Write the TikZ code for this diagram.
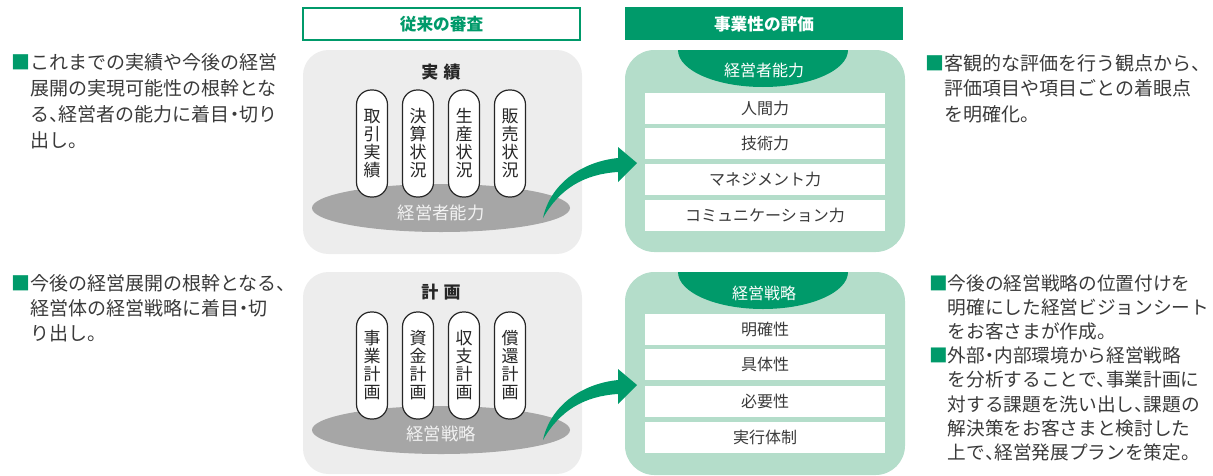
\documentclass[tikz,border=0pt]{standalone}
\usepackage{fontspec}
\setmainfont{Noto Sans CJK JP}
\definecolor{brand}{HTML}{009A6A}
\definecolor{mint}{HTML}{B4DDCA}
\definecolor{panelgray}{HTML}{EDEDED}
\definecolor{ellgray}{HTML}{A6A6A6}
\definecolor{ink}{HTML}{3A3A3A}
\newcommand{\sqb}{\textcolor{brand}{■}}
\newcommand{\hten}{\makebox[0.5em][l]{、}}
\newcommand{\hdot}{\makebox[0.5em][c]{・}}
\begin{document}
\begin{tikzpicture}[x=0.75pt,y=-0.75pt,
  bodyline/.style={anchor=base west, inner sep=0pt, text=ink, font=\fontsize{14.25pt}{14.25pt}\selectfont},
  smallline/.style={bodyline, font=\fontsize{14pt}{14pt}\selectfont},
  pillarbox/.style={draw=black!85, line width=0.9pt, fill=white, rounded corners=11pt,
    minimum width=23.25pt, minimum height=80.25pt, inner sep=0pt, align=center,
    text=black!85, font=\fontsize{12.75pt}{13.5pt}\selectfont},
  rowbox/.style={fill=white, minimum width=180pt, minimum height=23.25pt, inner sep=0pt,
    text=ink, font=\fontsize{12pt}{12pt}\selectfont},
  graypanel/.style={fill=panelgray, rounded corners=19pt},
  mintpanel/.style={fill=mint, rounded corners=22pt},
  greenarrow/.style={fill=brand},
  elltext/.style={text=white!95!black, font=\fontsize{13pt}{13pt}\selectfont, inner sep=0pt},
  captext/.style={text=white, font=\fontsize{12pt}{12pt}\selectfont, inner sep=0pt},
  titletext/.style={text=black!85, font=\bfseries\fontsize{12.75pt}{12.75pt}\selectfont, inner sep=0pt}
]
\useasboundingbox (0,0) rectangle (1213,475);

% headers
\draw[draw=brand, line width=1.2pt, fill=white] (303,8) rectangle (580,40);
\node[text=brand, font=\bfseries\fontsize{12.5pt}{12.5pt}\selectfont, inner sep=0pt] (hdrA) at (441.5,24) {従来の審査};
\fill[brand] (625,7) rectangle (903,40);
\node[text=white, font=\bfseries\fontsize{12.5pt}{12.5pt}\selectfont, inner sep=0pt] (hdrB) at (764,24) {事業性の評価};

% ---------- top row ----------
\fill[graypanel] (303,50) rectangle (582,254);
\fill[mintpanel] (625,50) rectangle (905,252);
\begin{scope}
  \clip (625,50) rectangle (905,100);
  \fill[brand] (763,50) ellipse [x radius=85, y radius=37];
\end{scope}
\node[captext] (capA) at (764,70) {経営者能力};
\node[rowbox] (rA1) at (765,108) {人間力};
\node[rowbox] (rA2) at (765,143.5) {技術力};
\node[rowbox] (rA3) at (765,179) {マネジメント力};
\node[rowbox] (rA4) at (765,215.5) {コミュニケーション力};

\fill[ellgray] (441,208) ellipse [x radius=129, y radius=24];
\node[elltext] (ellA) at (441,213) {経営者能力};
\node[titletext] (titA) at (441,72) {実\hspace{0.3em}績};
\node[pillarbox] (pA1) at (372,143.5) {取\\引\\実\\績};
\node[pillarbox] (pA2) at (418,143.5) {決\\算\\状\\況};
\node[pillarbox] (pA3) at (464,143.5) {生\\産\\状\\況};
\node[pillarbox] (pA4) at (510,143.5) {販\\売\\状\\況};
\fill[greenarrow] (543,218) .. controls (550,185) and (580,162) .. (618,158)
  -- (618,147) -- (637,163) -- (618,182) -- (618,172)
  .. controls (585,174) and (560,188) .. (543,218) -- cycle;

% ---------- bottom row ----------
\begin{scope}[shift={(0,222)}]
\fill[graypanel] (303,50) rectangle (582,252);
\fill[mintpanel] (625,50) rectangle (905,253);
\begin{scope}
  \clip (625,50) rectangle (905,100);
  \fill[brand] (763,50) ellipse [x radius=85, y radius=37];
\end{scope}
\node[captext] (capB) at (764,71) {経営戦略};
\node[rowbox] (rB1) at (765,107) {明確性};
\node[rowbox] (rB2) at (765,142.5) {具体性};
\node[rowbox] (rB3) at (765,179) {必要性};
\node[rowbox] (rB4) at (765,215.5) {実行体制};

\fill[ellgray] (441,208) ellipse [x radius=129, y radius=24];
\node[elltext] (ellB) at (441,212) {経営戦略};
\node[titletext] (titB) at (441,70) {計\hspace{0.3em}画};
\node[pillarbox] (pB1) at (372,143.5) {事\\業\\計\\画};
\node[pillarbox] (pB2) at (418,143.5) {資\\金\\計\\画};
\node[pillarbox] (pB3) at (464,143.5) {収\\支\\計\\画};
\node[pillarbox] (pB4) at (510,143.5) {償\\還\\計\\画};
\fill[greenarrow] (543,218) .. controls (550,185) and (580,162) .. (618,158)
  -- (618,147) -- (637,163) -- (618,182) -- (618,172)
  .. controls (585,174) and (560,188) .. (543,218) -- cycle;
\end{scope}

% ---------- side texts ----------
\node[bodyline] (lt1) at (11,69.2) {\sqb これまでの実績や今後の経営};
\node[bodyline] (lt2) at (30,95.2) {展開の実現可能性の根幹とな};
\node[bodyline] (lt3) at (30,121.2) {る\hten 経営者の能力に着目\hdot 切り};
\node[bodyline] (lt4) at (30,147.2) {出し。};

\node[bodyline] (lb1) at (11,290.2) {\sqb 今後の経営展開の根幹となる\hten};
\node[bodyline] (lb2) at (30,315.2) {経営体の経営戦略に着目\hdot 切};
\node[bodyline] (lb3) at (30,340.2) {り出し。};

\node[bodyline] (rt1) at (925,70.2) {\sqb 客観的な評価を行う観点から\hten};
\node[bodyline] (rt2) at (944,95.7) {評価項目や項目ごとの着眼点};
\node[bodyline] (rt3) at (944,121.2) {を明確化。};

\node[smallline] (rb1) at (929,290.1) {\sqb 今後の経営戦略の位置付けを};
\node[smallline] (rb2) at (947.7,314.3) {明確にした経営ビジョンシート};
\node[smallline] (rb3) at (947.7,338.5) {をお客さまが作成。};
\node[smallline] (rb4) at (929,362.7) {\sqb 外部\hdot 内部環境から経営戦略};
\node[smallline] (rb5) at (947.7,386.9) {を分析することで\hten 事業計画に};
\node[smallline] (rb6) at (947.7,411.1) {対する課題を洗い出し\hten 課題の};
\node[smallline] (rb7) at (947.7,435.3) {解決策をお客さまと検討した};
\node[smallline] (rb8) at (947.7,459.5) {上で\hten 経営発展プランを策定。};
\end{tikzpicture}
\end{document}
